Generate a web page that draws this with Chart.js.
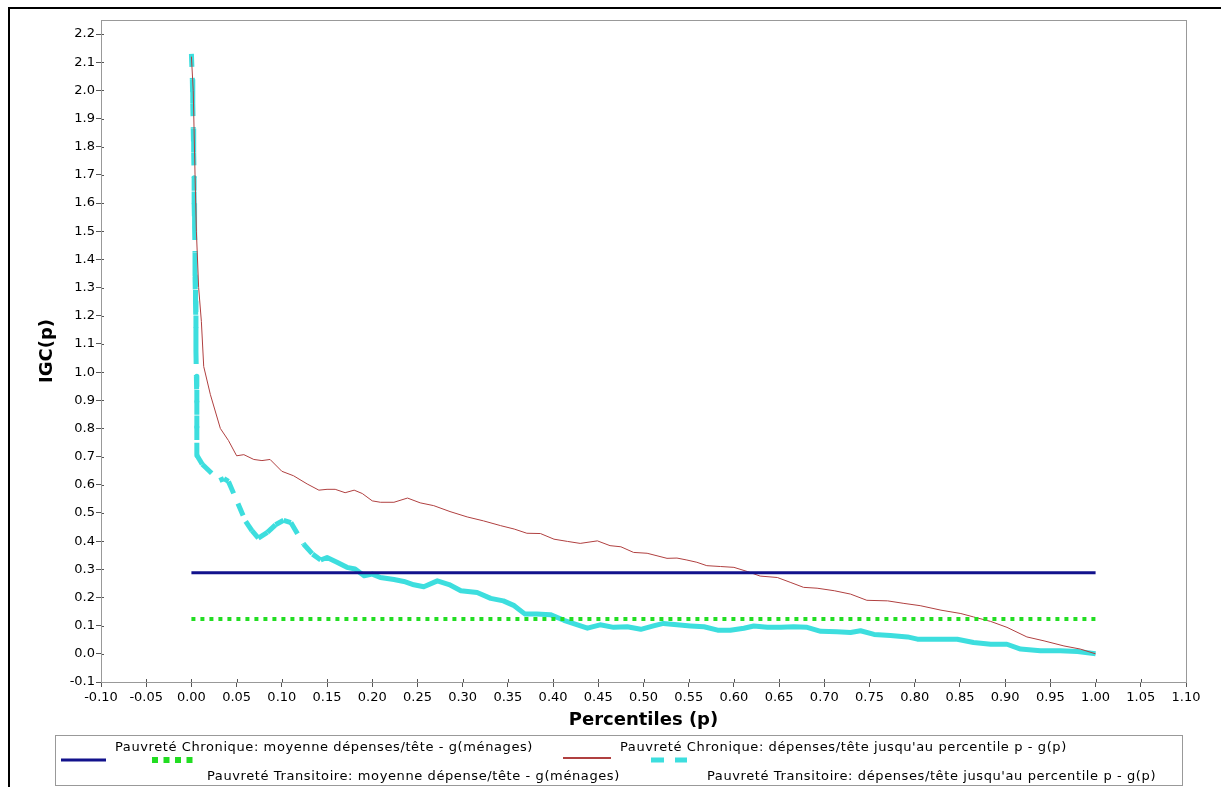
<!DOCTYPE html>
<html>
<head>
<meta charset="utf-8">
<script src="https://cdn.jsdelivr.net/npm/chart.js@4/dist/chart.umd.min.js"></script>
<style>
  html, body { margin: 0; padding: 0; background: #fff; }
</style>
</head>
<body>
<canvas id="chart" width="1221" height="787"></canvas>
<script>
// IGC(p) : pauvreté chronique et transitoire par percentile
const ctx = document.querySelector("#chart").getContext("2d");

const seriesLabels = [
  "Pauvreté Chronique: moyenne dépenses/tête - g(ménages)",
  "Pauvreté Transitoire: moyenne dépense/tête - g(ménages)",
  "Pauvreté Chronique: dépenses/tête jusqu'au percentile p - g(p)",
  "Pauvreté Transitoire: dépenses/tête jusqu'au percentile p - g(p)",
];

// moyennes (lignes horizontales)
const meanChronicP = [0, 1];
const meanChronicG = [0.288, 0.288];
const meanTransitP = [0, 1];
const meanTransitG = [0.124, 0.124];

// chronique jusqu'au percentile p
const chronicP = [
  0.000, 0.002, 0.004, 0.0055, 0.008, 0.011, 0.0136, 0.021, 0.032, 0.041,
  0.050, 0.058, 0.069, 0.078, 0.087, 0.100, 0.113, 0.128, 0.141, 0.150,
  0.159, 0.170, 0.180, 0.189, 0.200, 0.209, 0.224, 0.239, 0.253, 0.268,
  0.286, 0.305, 0.323, 0.342, 0.357, 0.371, 0.386, 0.401, 0.416, 0.430,
  0.449, 0.463, 0.475, 0.489, 0.504, 0.526, 0.537, 0.548, 0.559, 0.570,
  0.585, 0.600, 0.615, 0.629, 0.648, 0.663, 0.677, 0.692, 0.711, 0.729,
  0.747, 0.770, 0.788, 0.806, 0.829, 0.851, 0.865, 0.884, 0.902, 0.924,
  0.943, 0.965, 0.983, 1.000,
];
const chronicG = [
  2.120, 2.000, 1.700, 1.500, 1.300, 1.180, 1.020, 0.920, 0.800, 0.757,
  0.703, 0.707, 0.690, 0.686, 0.690, 0.648, 0.632, 0.603, 0.581, 0.584,
  0.584, 0.572, 0.581, 0.569, 0.543, 0.538, 0.538, 0.553, 0.536, 0.526,
  0.505, 0.486, 0.472, 0.455, 0.443, 0.428, 0.427, 0.407, 0.399, 0.392,
  0.401, 0.384, 0.380, 0.360, 0.357, 0.339, 0.340, 0.333, 0.325, 0.313,
  0.310, 0.307, 0.292, 0.276, 0.271, 0.253, 0.236, 0.233, 0.224, 0.212,
  0.190, 0.188, 0.179, 0.171, 0.155, 0.143, 0.131, 0.115, 0.094, 0.060,
  0.046, 0.028, 0.017, 0.000,
];

// transitoire jusqu'au percentile p
const transitP = [
  0.000, 0.001, 0.0015, 0.002, 0.0025, 0.003, 0.003, 0.0035, 0.004, 0.004,
  0.0045, 0.005, 0.005, 0.0055, 0.006, 0.006, 0.006, 0.012, 0.031, 0.036,
  0.041, 0.060, 0.067, 0.074, 0.084, 0.093, 0.102, 0.110, 0.124, 0.134,
  0.143, 0.150, 0.161, 0.172, 0.181, 0.191, 0.200, 0.209, 0.224, 0.235,
  0.246, 0.257, 0.272, 0.285, 0.298, 0.316, 0.331, 0.345, 0.357, 0.369,
  0.382, 0.397, 0.412, 0.427, 0.438, 0.452, 0.467, 0.482, 0.497, 0.511,
  0.522, 0.537, 0.552, 0.567, 0.582, 0.596, 0.611, 0.622, 0.637, 0.652,
  0.666, 0.681, 0.696, 0.714, 0.729, 0.740, 0.755, 0.773, 0.792, 0.803,
  0.821, 0.847, 0.865, 0.884, 0.902, 0.917, 0.939, 0.961, 0.980, 1.000,
];
const transitG = [
  2.130, 2.040, 1.955, 1.865, 1.780, 1.690, 1.600, 1.515, 1.425, 1.340,
  1.250, 1.160, 1.075, 0.985, 0.895, 0.805, 0.705, 0.673, 0.615, 0.622,
  0.612, 0.470, 0.437, 0.411, 0.431, 0.458, 0.474, 0.466, 0.390, 0.354,
  0.333, 0.342, 0.325, 0.307, 0.301, 0.277, 0.283, 0.271, 0.264, 0.257,
  0.245, 0.238, 0.259, 0.246, 0.224, 0.218, 0.197, 0.188, 0.171, 0.141,
  0.141, 0.139, 0.119, 0.103, 0.091, 0.103, 0.094, 0.096, 0.087, 0.099,
  0.108, 0.103, 0.099, 0.096, 0.084, 0.084, 0.091, 0.099, 0.094, 0.094,
  0.096, 0.094, 0.080, 0.078, 0.076, 0.082, 0.069, 0.065, 0.060, 0.052,
  0.052, 0.052, 0.040, 0.034, 0.034, 0.017, 0.011, 0.011, 0.008, 0.000,
];

const colors = ["#12128c", "#22dd22", "#b04040", "#3ddede"];

function toPoints(xs, ys) {
  return xs.map((x, i) => ({ x, y: ys[i] }));
}

function fmt(v, d) {
  if (Math.abs(v) < 1e-9) v = 0;
  return v.toFixed(d);
}

// cadre noir autour de l'image
const outerFrame = {
  id: "outerFrame",
  beforeDraw(chart) {
    const c = chart.ctx;
    c.save();
    c.fillStyle = "#000";
    c.fillRect(8, 7, 1213, 2);
    c.fillRect(8, 7, 2, 780);
    c.restore();
  },
};

// traits de graduation qui traversent l'axe + contour du graphe
const plotFrame = {
  id: "plotFrame",
  afterDraw(chart) {
    const { ctx: c, chartArea: a, scales } = chart;
    c.save();
    c.strokeStyle = "#555";
    c.lineWidth = 1;
    c.beginPath();
    scales.x.ticks.forEach((t) => {
      const px = Math.round(scales.x.getPixelForValue(t.value)) + 0.5;
      c.moveTo(px, a.bottom);
      c.lineTo(px, a.bottom - 3);
    });
    scales.y.ticks.forEach((t) => {
      const py = Math.round(scales.y.getPixelForValue(t.value)) + 0.5;
      c.moveTo(a.left, py);
      c.lineTo(a.left + 3, py);
    });
    c.stroke();
    c.strokeStyle = "#999";
    c.strokeRect(a.left + 0.5, a.top + 0.5, a.right - a.left, a.bottom - a.top);
    c.restore();
  },
};

// légende dessinée à la main (disposition sur deux lignes)
const legendBox = { left: 55, top: 735, right: 1182, bottom: 785 };
const legendPos = [
  { sx: 61, sw: 45, sy: 760, tx: 115, ty: 748, w: 3, dash: [] },
  { sx: 152, sw: 41, sy: 760, tx: 207, ty: 777, w: 6, dash: [6, 5.5] },
  { sx: 563, sw: 48, sy: 758, tx: 620, ty: 748, w: 2, dash: [] },
  { sx: 651, sw: 36, sy: 760, tx: 707, ty: 777, w: 5, dash: [13, 11] },
];

const customLegend = {
  id: "customLegend",
  afterDraw(chart) {
    const c = chart.ctx;
    c.save();
    c.strokeStyle = "#999";
    c.lineWidth = 1;
    c.strokeRect(legendBox.left + 0.5, legendBox.top + 0.5,
      legendBox.right - legendBox.left, legendBox.bottom - legendBox.top);
    chart.data.datasets.forEach((ds, i) => {
      const p = legendPos[i];
      c.strokeStyle = ds.borderColor;
      c.lineWidth = p.w;
      c.setLineDash(p.dash);
      c.beginPath();
      c.moveTo(p.sx, p.sy);
      c.lineTo(p.sx + p.sw, p.sy);
      c.stroke();
      c.setLineDash([]);
      c.fillStyle = "#000";
      c.font = "13px 'DejaVu Sans'";
      c.letterSpacing = "0.6px";
      c.textBaseline = "middle";
      c.fillText(ds.label, p.tx, p.ty);
    });
    c.restore();
  },
};

const tickFont = { family: "'DejaVu Sans'", size: 13 };
const titleFont = { family: "'DejaVu Sans'", size: 18, weight: "bold" };

new Chart(ctx, {
  type: "line",
  data: {
    datasets: [
      {
        label: seriesLabels[0],
        data: toPoints(meanChronicP, meanChronicG),
        borderColor: colors[0],
        borderWidth: 3,
        pointRadius: 0,
      },
      {
        label: seriesLabels[1],
        data: toPoints(meanTransitP, meanTransitG),
        borderColor: colors[1],
        borderWidth: 4,
        borderDash: [4, 5],
        pointRadius: 0,
      },
      {
        label: seriesLabels[2],
        data: toPoints(chronicP, chronicG),
        borderColor: colors[2],
        borderWidth: 1,
        pointRadius: 0,
      },
      {
        label: seriesLabels[3],
        data: toPoints(transitP, transitG),
        borderColor: colors[3],
        borderWidth: 5,
        borderJoinStyle: "round",
        pointRadius: 0,
        segment: {
          borderDash: (c) => (c.p0.parsed.x < 0.135 ? [13, 11] : []),
          borderDashOffset: (c) => (c.p0.parsed.x < 0.135 ? (c.p0DataIndex % 2) * 0.01 : 0),
        },
      },
    ],
  },
  options: {
    responsive: false,
    animation: false,
    layout: { padding: { top: 20, right: 35, left: 0, bottom: 0 } },
    plugins: {
      legend: { display: false },
      tooltip: { enabled: false },
    },
    scales: {
      x: {
        type: "linear",
        min: -0.1,
        max: 1.1,
        afterFit: (s) => { s.height = 105; },
        grid: { drawOnChartArea: false, tickLength: 5, color: "#555" },
        border: { color: "#888" },
        ticks: {
          stepSize: 0.05,
          autoSkip: false,
          maxRotation: 0,
          padding: 3,
          color: "#000",
          font: tickFont,
          callback: (v) => fmt(v, 2),
        },
        title: {
          display: true,
          text: "Percentiles (p)",
          color: "#000",
          font: titleFont,
          padding: { top: 0, bottom: 56 },
        },
      },
      y: {
        min: -0.1,
        max: 2.25,
        afterFit: (s) => { s.width = 101; },
        grid: { drawOnChartArea: false, tickLength: 5, color: "#555" },
        border: { color: "#888" },
        ticks: {
          stepSize: 0.1,
          includeBounds: false,
          padding: 1,
          color: "#000",
          font: tickFont,
          callback: (v) => fmt(v, 1),
        },
        title: {
          display: true,
          text: "IGC(p)",
          color: "#000",
          font: titleFont,
          padding: { top: 37, bottom: 0 },
        },
      },
    },
  },
  plugins: [outerFrame, plotFrame, customLegend],
});
</script>
</body>
</html>
